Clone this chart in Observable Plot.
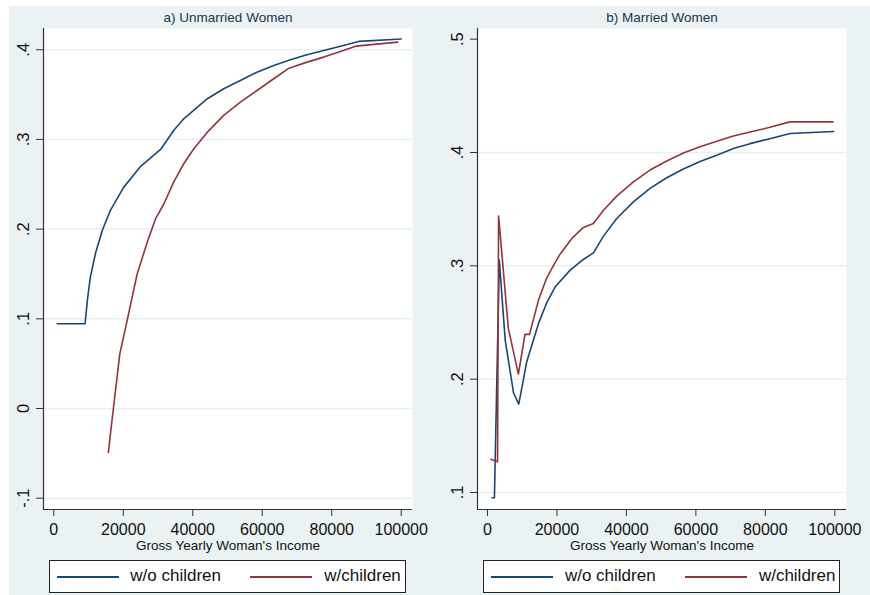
<!DOCTYPE html>
<html><head><meta charset="utf-8">
<script src="https://cdn.jsdelivr.net/npm/d3@7"></script>
<script src="https://cdn.jsdelivr.net/npm/@observablehq/plot@0.6"></script>
<style>
body{margin:0;width:870px;height:595px;overflow:hidden;background:#fff;font-family:"Liberation Sans",Arial,sans-serif;position:relative}
#bg{position:absolute;left:9px;top:6px;width:861px;height:589px;background:#eaf2f3}
.panel{position:absolute;top:6px}
.legend{position:absolute;top:560px;height:33px;width:357px;background:#fff;border:1px solid #222;box-sizing:border-box}
.legend .ln{position:absolute;top:15px;height:1.6px;width:62px}
.legend .tx{position:absolute;top:5px;font-size:17px;line-height:20px;color:#111;white-space:nowrap}
</style>
</head><body>
<div id="bg"></div>
<div id="pa" class="panel" style="left:9px"></div>
<div id="pb" class="panel" style="left:443px"></div>
<div id="la" class="legend" style="left:48.7px"></div>
<div id="lb" class="legend" style="left:483.3px"></div>
<script>
// ---- data ----
const seriesNames = ["w/o children", "w/children"];
const seriesColors = ["#1a476f", "#90353b"];
const xTicks = [0, 20000, 40000, 60000, 80000, 100000];
const xTitle = "Gross Yearly Woman's Income";

// a) Unmarried Women
const titleA = "a) Unmarried Women";
const yTicksA = [-0.1, 0, 0.1, 0.2, 0.3, 0.4];
const yLabelsA = ["-.1", "0", ".1", ".2", ".3", ".4"];
const incomeA0 = [1000, 9000, 9700, 10500, 12000, 14000, 16300, 20000, 25000, 30900, 34500, 37400, 44200, 48900, 53700, 58500, 63300, 68100, 72900, 77700, 82500, 87800, 100000];
const shareA0  = [0.0945, 0.0945, 0.122, 0.146, 0.173, 0.199, 0.221, 0.246, 0.270, 0.2896, 0.310, 0.323, 0.3454, 0.3565, 0.3658, 0.375, 0.3825, 0.3889, 0.3944, 0.3992, 0.404, 0.4093, 0.412];
const incomeA1 = [15700, 17300, 19000, 21100, 24000, 26900, 29300, 31700, 34500, 37400, 40300, 44200, 48900, 53700, 58500, 63300, 67700, 72900, 77700, 82500, 86900, 99000];
const shareA1  = [-0.049, 0.005, 0.061, 0.098, 0.150, 0.1855, 0.2116, 0.2283, 0.2524, 0.2729, 0.2896, 0.3081, 0.3268, 0.3416, 0.3546, 0.3677, 0.3795, 0.3862, 0.3918, 0.3981, 0.404, 0.4085];

// b) Married Women
const titleB = "b) Married Women";
const yTicksB = [0.1, 0.2, 0.3, 0.4, 0.5];
const yLabelsB = [".1", ".2", ".3", ".4", ".5"];
const incomeB0 = [1300, 2000, 3400, 5100, 7500, 9000, 11300, 14700, 17000, 19500, 23800, 27600, 30500, 33400, 37200, 42000, 46800, 51600, 56400, 61200, 66000, 70800, 75600, 81300, 87100, 99700];
const shareB0  = [0.0954, 0.0954, 0.305, 0.2345, 0.188, 0.178, 0.2153, 0.2492, 0.267, 0.2815, 0.2962, 0.3056, 0.3115, 0.3262, 0.3418, 0.3564, 0.3684, 0.3777, 0.3855, 0.392, 0.3975, 0.4035, 0.4078, 0.4122, 0.4168, 0.4185];
const incomeB1 = [1000, 2900, 3200, 6000, 8900, 10800, 12100, 14700, 17000, 19500, 20900, 24300, 27600, 30500, 33400, 37200, 42000, 46800, 51600, 56400, 61200, 66000, 70800, 75600, 81300, 87100, 99500];
const shareB1  = [0.1293, 0.1272, 0.344, 0.2448, 0.2045, 0.2395, 0.2395, 0.2698, 0.289, 0.303, 0.3103, 0.3242, 0.3339, 0.3374, 0.3491, 0.3615, 0.3741, 0.3845, 0.3925, 0.3995, 0.405, 0.410, 0.4146, 0.418, 0.4222, 0.427, 0.427];

// ---- drawing ----
const FONT = '"Liberation Sans", Arial, sans-serif';
function zip(xs, ys) { return xs.map((x, i) => ({income: x, share: ys[i]})); }

function panel({title, xDomain, yDomain, yTicks, yLabels, gridTicks, s0, s1, width, marginRight}) {
  return Plot.plot({
    width, height: 550,
    marginLeft: 34, marginRight, marginTop: 22, marginBottom: 47,
    x: {domain: xDomain},
    y: {domain: yDomain},
    style: {background: "none", fontFamily: FONT, overflow: "visible", color: "#111"},
    marks: [
      Plot.frame({fill: "white", stroke: "none"}),
      Plot.ruleY(gridTicks, {stroke: "#e6eff1", strokeWidth: 1.5}),
      Plot.ruleX([xDomain[0]], {stroke: "#333", strokeWidth: 1.2}),
      Plot.ruleY([yDomain[0]], {stroke: "#333", strokeWidth: 1.2}),
      Plot.axisY({ticks: yTicks, tickSize: 7, tickFormat: () => "", label: null, stroke: "#333"}),
      Plot.text(yTicks, {y: d => d, text: (d, i) => yLabels[i], frameAnchor: "left", dx: -20, rotate: -90,
        textAnchor: "middle", lineAnchor: "middle", fontSize: 16.5, fill: "#111"}),
      Plot.axisX({ticks: xTicks, tickSize: 7, tickPadding: 7, fontSize: 16, tickFormat: d => String(d), label: null, stroke: "#333"}),
      Plot.text([title], {text: d => d, frameAnchor: "top", dy: -10.7, lineAnchor: "middle", fontSize: 13.5, fill: "#243350"}),
      Plot.text([xTitle], {text: d => d, frameAnchor: "bottom", dy: 36, lineAnchor: "middle", fontSize: 13.5, fill: "#111"}),
      Plot.line(s0, {x: "income", y: "share", stroke: seriesColors[0], strokeWidth: 1.6}),
      Plot.line(s1, {x: "income", y: "share", stroke: seriesColors[1], strokeWidth: 1.6})
    ]
  });
}

document.getElementById("pa").appendChild(panel({
  title: titleA, xDomain: [-2965, 103250], yDomain: [-0.1126, 0.4237],
  yTicks: yTicksA, yLabels: yLabelsA, gridTicks: yTicksA,
  s0: zip(incomeA0, shareA0), s1: zip(incomeA1, shareA1), width: 431, marginRight: 28
}));
document.getElementById("pb").appendChild(panel({
  title: titleB, xDomain: [-2876, 103365], yDomain: [0.085, 0.5094],
  yTicks: yTicksB, yLabels: yLabelsB, gridTicks: [0.1, 0.2, 0.3, 0.4],
  s0: zip(incomeB0, shareB0), s1: zip(incomeB1, shareB1), width: 427, marginRight: 24
}));

function legend(el) {
  const pos = [{line: 7, text: 80.6}, {line: 200.6, text: 274.6}];
  seriesNames.forEach((name, i) => {
    const l = document.createElement("div");
    l.className = "ln"; l.style.left = pos[i].line + "px"; l.style.background = seriesColors[i];
    el.appendChild(l);
    const t = document.createElement("div");
    t.className = "tx"; t.style.left = pos[i].text + "px"; t.textContent = name;
    el.appendChild(t);
  });
}
legend(document.getElementById("la"));
legend(document.getElementById("lb"));
</script>
</body></html>
